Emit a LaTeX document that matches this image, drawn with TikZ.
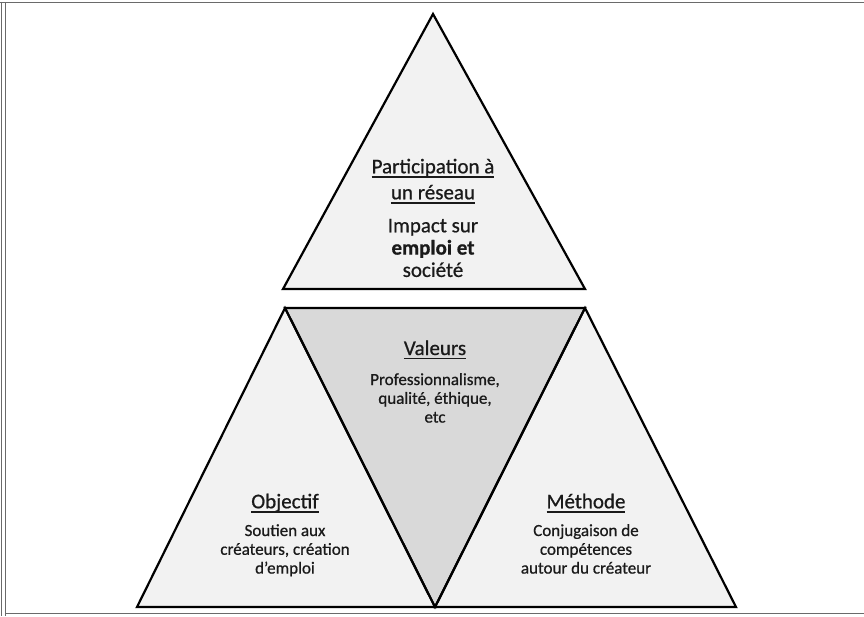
\documentclass[tikz,border=0pt]{standalone}
\usepackage{fontspec}
\setmainfont{Carlito}[FakeBold=0.7]
\definecolor{paleface}{HTML}{F2F2F2}
\definecolor{midface}{HTML}{D9D9D9}
\definecolor{frameline}{HTML}{6A6A6A}
\definecolor{inktext}{HTML}{1A1A1A}
\newcommand{\blockof}[1]{\begin{tabular}[t]{@{}c@{}}#1\end{tabular}}
\newsavebox{\ulinebox}
\newcommand{\ulined}[1]{\sbox{\ulinebox}{#1}\rlap{\rule[-4.3pt]{\wd\ulinebox}{1.2pt}}\usebox{\ulinebox}}
\begin{document}
\begin{tikzpicture}[x=1pt,y=-1pt,
  edge/.style={draw=black,line width=2.2pt,line join=miter},
  border/.style={draw=frameline,line width=1.4pt},
  label/.style={inner sep=0pt,anchor=base,text=inktext},
  heading/.style={label,font=\fontsize{21}{26}\selectfont},
  bigbody/.style={label,font=\fontsize{21}{22.3}\selectfont},
  smallbody/.style={label,font=\fontsize{17}{18.8}\selectfont}]
\useasboundingbox (0,0) rectangle (864,616);

% page frame
\draw[border] (0,2.5) -- (864,2.5);
\draw[border] (1.7,2) -- (1.7,616);
\draw[border] (5.6,2) -- (5.6,616);
\draw[border] (5.6,613.5) -- (864,613.5);

% triangle corners
\coordinate (tA) at (433,14);
\coordinate (tL) at (283,289);
\coordinate (tR) at (585,289);
\coordinate (bL) at (137,607);
\coordinate (bM) at (435,607);
\coordinate (bR) at (736,607);
\coordinate (uL) at (285,308);
\coordinate (uR) at (585,308);

% faces
\fill[paleface] (tL) -- (tA) -- (tR) -- cycle;
\fill[paleface] (bL) -- (uL) -- (bM) -- cycle;
\fill[paleface] (bM) -- (uR) -- (bR) -- cycle;
\fill[midface] (uL) -- (uR) -- (bM) -- cycle;

% outlines
\draw[edge] (tL) -- (tA) -- (tR) -- cycle;
\draw[edge] (bL) -- (uL) -- (bM) -- cycle;
\draw[edge] (bM) -- (uR) -- (bR) -- cycle;
\draw[edge] (uL) -- (uR) -- (bM) -- cycle;

% top triangle
\node[heading] (netTitle) at (433,173.3) {\blockof{\ulined{Participation à}\\\ulined{un réseau}}};
\node[bigbody] (netBody) at (433,232.3) {\blockof{Impact sur\\\textbf{emploi et}\\société}};

% central inverted triangle
\node[heading] (valTitle) at (435,355) {\blockof{\ulined{Valeurs}}};
\node[smallbody] (valBody) at (435,385) {\blockof{Professionnalisme,\\qualité, éthique,\\etc}};

% left triangle
\node[heading] (objTitle) at (285,508.3) {\blockof{\ulined{Objectif}}};
\node[smallbody] (objBody) at (285,536) {\blockof{Soutien aux\\créateurs, création\\d’emploi}};

% right triangle
\node[heading] (metTitle) at (586,508.3) {\blockof{\ulined{Méthode}}};
\node[smallbody] (metBody) at (586,536) {\blockof{Conjugaison de\\compétences\\autour du créateur}};
\end{tikzpicture}
\end{document}
